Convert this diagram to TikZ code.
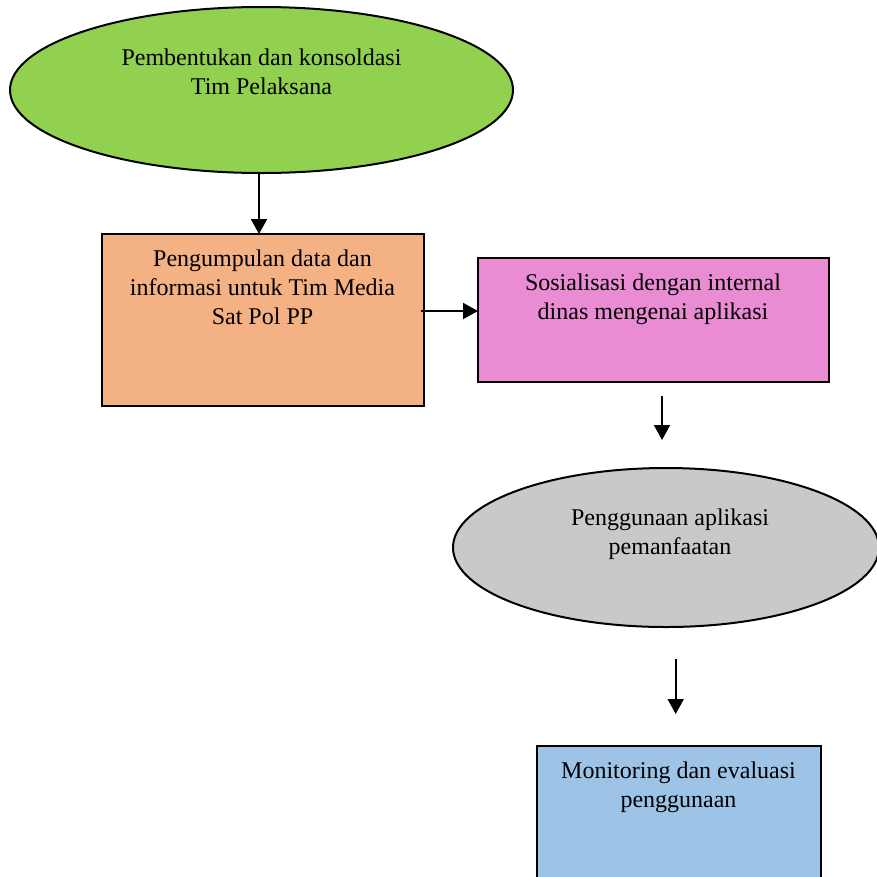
\documentclass[tikz,border=0pt]{standalone}
\usepackage{fontspec}
\setmainfont{Liberation Serif}
\usetikzlibrary{shapes.geometric,arrows.meta}
\definecolor{cgreen}{RGB}{146,208,80}
\definecolor{corange}{RGB}{244,177,131}
\definecolor{cpink}{RGB}{234,140,211}
\definecolor{cgray}{RGB}{201,201,201}
\definecolor{cblue}{RGB}{157,195,230}
\tikzset{
  shapebox/.style={draw=black, line width=2pt, inner sep=0pt, outer sep=0pt},
  ellbox/.style={shapebox, ellipse},
  rectbox/.style={shapebox, rectangle},
  txt/.style={inner sep=0pt, anchor=north, align=center, font=\fontsize{24}{29}\selectfont},
  arr/.style={line width=2pt, -{Triangle[width=16pt,length=15pt]}}
}
\begin{document}
\begin{tikzpicture}[x=1pt,y=-1pt]
\useasboundingbox (0,0) rectangle (877,876);
% shapes
\node[ellbox, fill=cgreen, minimum width=503pt, minimum height=166pt] (e1) at (261.5,90) {};
\node[rectbox, fill=corange, minimum width=322pt, minimum height=172pt] (r1) at (263,320) {};
\node[rectbox, fill=cpink, minimum width=351pt, minimum height=124pt] (r2) at (653.5,319.8) {};
\node[ellbox, fill=cgray, minimum width=426pt, minimum height=159pt] (e2) at (666,547.5) {};
\node[rectbox, fill=cblue, minimum width=284pt, minimum height=180pt, anchor=north] (r3) at (678.7,745.7) {};
% texts
\node[txt] (t1) at (261.5,44.7) {\strut Pembentukan dan konsoldasi\\Tim Pelaksana};
\node[txt] (t2) at (262.5,246.4) {\strut Pengumpulan data dan\\informasi untuk Tim Media\\Sat Pol PP};
\node[txt] (t3) at (653,269.7) {\strut Sosialisasi dengan internal\\dinas mengenai aplikasi};
\node[txt] (t4) at (670,504.7) {\strut Penggunaan aplikasi\\pemanfaatan};
\node[txt] (t5) at (678.5,757.7) {\strut Monitoring dan evaluasi\\penggunaan};
% free arrow ends
\coordinate (a3s) at (662,395.7);
\coordinate (a3e) at (662,440);
\coordinate (a4s) at (675.7,659);
\coordinate (a4e) at (675.7,714);
\coordinate (a2s) at (420.7,311);
% connectors
\draw[arr] (e1.south -| 259,0) -- (r1.north -| 259,0);
\draw[arr] (a2s) -- (a2s -| r2.west);
\draw[arr] (a3s) -- (a3e);
\draw[arr] (a4s) -- (a4e);
\end{tikzpicture}
\end{document}
